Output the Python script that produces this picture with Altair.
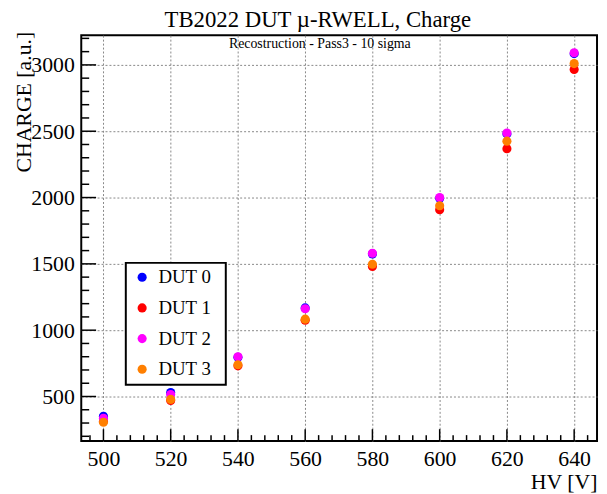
import altair as alt
import pandas as pd

HV = [500, 520, 540, 560, 580, 600, 620, 640]
DUT0 = [351, 530, 795, 1168, 1575, 1995, 2480, 3085]
DUT1 = [313, 470, 731, 1075, 1480, 1908, 2368, 2965]
DUT2 = [336, 515, 800, 1162, 1580, 2000, 2487, 3092]
DUT3 = [306, 478, 739, 1083, 1497, 1938, 2425, 3010]
SERIES = ["DUT 0", "DUT 1", "DUT 2", "DUT 3"]
COLORS = ["#0000ff", "#ff0000", "#ff00ff", "#ff7f00"]

X_MAJOR = [500, 520, 540, 560, 580, 600, 620, 640]
X_MINOR = [496, 504, 508, 512, 516, 524, 528, 532, 536, 544, 548, 552, 556,
           564, 568, 572, 576, 584, 588, 592, 596, 604, 608, 612, 616, 624,
           628, 632, 636, 644]
Y_MAJOR = [500, 1000, 1500, 2000, 2500, 3000]
Y_MINOR = [200, 300, 400, 600, 700, 800, 900, 1100, 1200, 1300, 1400, 1600,
           1700, 1800, 1900, 2100, 2200, 2300, 2400, 2600, 2700, 2800, 2900,
           3100, 3200]

TITLE = "TB2022 DUT \u00b5-RWELL, Charge"
SUBTITLE = "Recostruction - Pass3 - 10 sigma"

rows = []
for name, vals in zip(SERIES, [DUT0, DUT1, DUT2, DUT3]):
    for hv, v in zip(HV, vals):
        rows.append({"hv": hv, "charge": v, "dut": name})
df = pd.DataFrame(rows)

FONT = "Liberation Serif"
W, H = 521, 410
xs = alt.Scale(domain=[493.4, 646.8], nice=False, zero=False)
ys = alt.Scale(domain=[164, 3224], nice=False, zero=False)

points = alt.Chart(df).mark_circle(size=85, opacity=1).encode(
    x=alt.X("hv:Q", scale=xs, axis=alt.Axis(
        values=X_MAJOR, format="d", title="HV [V]", grid=True, ticks=False,
        tickSize=0, domain=False, labelFont=FONT, labelFontSize=22,
        labelColor="black", labelPadding=8, labelFlush=False,
        titleFont=FONT, titleFontSize=22, titleFontWeight="normal",
        titleColor="black", titleAnchor="end", titleAlign="right",
        titleX=W, titleY=48, titleBaseline="alphabetic")),
    y=alt.Y("charge:Q", scale=ys, axis=alt.Axis(
        values=Y_MAJOR, format="d", title="CHARGE [a.u.]", grid=True,
        ticks=False, tickSize=0, domain=False, labelFont=FONT,
        labelFontSize=22, labelColor="black", labelPadding=7,
        labelFlush=False,
        titleFont=FONT, titleFontSize=22, titleFontWeight="normal",
        titleColor="black", titleAngle=270, titleAlign="right",
        titleBaseline="middle", titleX=-58, titleY=-4)),
    color=alt.Color("dut:N", scale=alt.Scale(domain=SERIES, range=COLORS),
                    legend=alt.Legend(
                        title=None, orient="none", legendX=45, legendY=230,
                        symbolType="circle", symbolSize=85, symbolOffset=2,
                        labelFont=FONT, labelFontSize=19, labelColor="black",
                        labelOffset=7, rowPadding=11, padding=5,
                        strokeColor="black", fillColor="white",
                        labelExpr="datum.label + '\u00a0\u00a0\u200b'")),
    order=alt.Order("dut:N"),
)

xt_major = alt.Chart(pd.DataFrame({"hv": X_MAJOR})).mark_rule(
    color="black", strokeWidth=1.5).encode(
    x=alt.X("hv:Q", scale=xs), y=alt.value(H), y2=alt.value(H - 12))
xt_minor = alt.Chart(pd.DataFrame({"hv": X_MINOR})).mark_rule(
    color="black", strokeWidth=1.5).encode(
    x=alt.X("hv:Q", scale=xs), y=alt.value(H), y2=alt.value(H - 6))
yt_major = alt.Chart(pd.DataFrame({"charge": Y_MAJOR})).mark_rule(
    color="black", strokeWidth=1.5).encode(
    y=alt.Y("charge:Q", scale=ys), x=alt.value(0), x2=alt.value(15))
yt_minor = alt.Chart(pd.DataFrame({"charge": Y_MINOR})).mark_rule(
    color="black", strokeWidth=1.5).encode(
    y=alt.Y("charge:Q", scale=ys), x=alt.value(0), x2=alt.value(8))

title = alt.Chart(pd.DataFrame({"t": [TITLE]})).mark_text(
    font=FONT, fontSize=23, color="black", align="center",
    baseline="alphabetic").encode(
    text="t:N", x=alt.value(239), y=alt.value(-8))
subtitle = alt.Chart(pd.DataFrame({"t": [SUBTITLE]})).mark_text(
    font=FONT, fontSize=14, color="black", align="center",
    baseline="alphabetic").encode(
    text="t:N", x=alt.value(241), y=alt.value(13))

chart = alt.layer(
    xt_minor, xt_major, yt_minor, yt_major, points, title, subtitle
).properties(
    width=W, height=H,
    autosize=alt.AutoSizeParams(type="none"),
    padding={"left": 74, "top": 25, "right": 2, "bottom": 51},
    background="white",
).configure_view(
    stroke="black", strokeWidth=2
).configure_axis(
    gridColor="#888888", gridDash=[2, 2], gridWidth=1
).configure_legend(
    strokeWidth=2
)

chart.save("out.html", embed_options={"renderer": "svg", "actions": False})
